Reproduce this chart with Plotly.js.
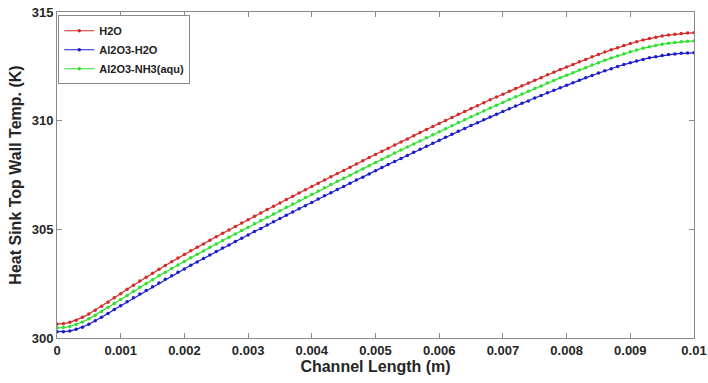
<!DOCTYPE html>
<html>
<head>
<meta charset="utf-8">
<script src="https://cdn.plot.ly/plotly-3.0.1.min.js"></script>
<style>html,body{margin:0;padding:0;background:#fff;}#chart{width:708px;height:383px;}</style>
</head>
<body>
<div id="chart"></div>
<script>
// Channel length positions: 101 grid points from 0 to 0.01 m
const channelLength = Array.from({length: 101}, (_, i) => +(i * 0.0001).toFixed(4));

const seriesNames = ["H2O", "Al2O3-H2O", "Al2O3-NH3(aqu)"];

const tempH2O = [
300.64,300.66,300.72,300.82,300.95,301.10,301.28,301.46,301.65,301.85,
302.04,302.24,302.43,302.62,302.80,302.98,303.16,303.34,303.51,303.68,
303.84,304.01,304.17,304.33,304.50,304.66,304.82,304.97,305.13,305.29,
305.44,305.60,305.75,305.91,306.06,306.21,306.37,306.52,306.67,306.82,
306.97,307.12,307.27,307.42,307.57,307.71,307.86,308.01,308.15,308.30,
308.44,308.59,308.73,308.88,309.02,309.16,309.31,309.45,309.59,309.73,
309.87,310.01,310.15,310.29,310.42,310.56,310.69,310.83,310.96,311.09,
311.22,311.35,311.48,311.61,311.73,311.86,311.98,312.11,312.23,312.35,
312.47,312.59,312.71,312.82,312.94,313.05,313.16,313.26,313.36,313.46,
313.55,313.63,313.71,313.78,313.84,313.90,313.94,313.98,314.01,314.03,
314.04];

const tempAl2O3H2O = [
300.29,300.29,300.32,300.40,300.50,300.63,300.79,300.95,301.13,301.31,
301.48,301.67,301.85,302.02,302.19,302.36,302.53,302.70,302.87,303.03,
303.18,303.35,303.50,303.66,303.82,303.98,304.14,304.28,304.44,304.59,
304.74,304.90,305.04,305.20,305.35,305.50,305.65,305.80,305.95,306.09,
306.24,306.39,306.54,306.68,306.83,306.97,307.12,307.27,307.40,307.55,
307.69,307.84,307.98,308.12,308.26,308.40,308.55,308.69,308.82,308.96,
309.10,309.24,309.37,309.51,309.64,309.78,309.90,310.04,310.17,310.29,
310.42,310.55,310.67,310.80,310.91,311.04,311.16,311.28,311.40,311.51,
311.63,311.75,311.86,311.97,312.08,312.19,312.30,312.39,312.49,312.58,
312.67,312.75,312.82,312.89,312.94,313.00,313.04,313.07,313.10,313.11,
313.12];

const tempAl2O3NH3 = [
300.47,300.48,300.53,300.62,300.74,300.88,301.05,301.22,301.40,301.59,
301.77,301.96,302.15,302.33,302.51,302.68,302.86,303.03,303.20,303.36,
303.52,303.69,303.85,304.00,304.17,304.33,304.49,304.64,304.79,304.95,
305.10,305.26,305.41,305.56,305.71,305.86,306.02,306.17,306.31,306.46,
306.61,306.76,306.91,307.06,307.21,307.35,307.49,307.64,307.78,307.93,
308.07,308.22,308.36,308.51,308.65,308.79,308.93,309.07,309.21,309.35,
309.49,309.63,309.77,309.91,310.04,310.18,310.31,310.45,310.58,310.71,
310.84,310.97,311.10,311.23,311.35,311.48,311.60,311.73,311.85,311.97,
312.09,312.21,312.33,312.44,312.56,312.67,312.78,312.88,312.98,313.08,
313.17,313.25,313.33,313.40,313.46,313.52,313.56,313.60,313.63,313.65,
313.66];

const xTickVals = [0,0.001,0.002,0.003,0.004,0.005,0.006,0.007,0.008,0.009,0.01];
const xTickText = ["0","0.001","0.002","0.003","0.004","0.005","0.006","0.007","0.008","0.009","0.01"];
const yTickVals = [300,305,310,315];
const yTickText = ["300","305","310","315"];

const colors = ["#d42a2a", "#1c1ccf", "#2fe02f"];
const allSeries = [tempH2O, tempAl2O3H2O, tempAl2O3NH3];

const traces = allSeries.map((ys, k) => ({
  x: channelLength,
  y: ys,
  name: seriesNames[k],
  type: "scatter",
  mode: "lines+markers",
  line: {color: colors[k], width: 1.2},
  marker: {color: colors[k], size: 3.5, symbol: "circle"}
}));

const fontFam = "Liberation Sans, Arial, sans-serif";

const layout = {
  width: 708,
  height: 383,
  margin: {l: 57, r: 14, t: 12, b: 45},
  paper_bgcolor: "#ffffff",
  plot_bgcolor: "#ffffff",
  showlegend: true,
  legend: {
    x: 0.002, y: 0.99, xanchor: "left", yanchor: "top",
    bgcolor: "#ffffff", bordercolor: "#8a8a8a", borderwidth: 1,
    font: {family: fontFam, size: 11, color: "#222", weight: "bold"},
    itemwidth: 30, tracegroupgap: 0
  },
  xaxis: {
    range: [0, 0.01],
    tickvals: xTickVals, ticktext: xTickText,
    ticks: "inside", ticklen: 5, tickcolor: "#8a8a8a",
    showline: true, linecolor: "#8a8a8a", linewidth: 1, mirror: "ticks",
    showgrid: false, zeroline: false,
    tickfont: {family: fontFam, size: 13, color: "#262626", weight: "bold"},
    title: {text: "Channel Length (m)", font: {family: fontFam, size: 16, color: "#262626", weight: "bold"}, standoff: 4}
  },
  yaxis: {
    range: [300, 315],
    tickvals: yTickVals, ticktext: yTickText,
    ticks: "inside", ticklen: 5, tickcolor: "#8a8a8a",
    showline: true, linecolor: "#8a8a8a", linewidth: 1, mirror: "ticks",
    showgrid: false, zeroline: false,
    tickfont: {family: fontFam, size: 13, color: "#262626", weight: "bold"},
    title: {text: "Heat Sink Top Wall Temp. (K)", font: {family: fontFam, size: 16, color: "#262626", weight: "bold"}, standoff: 6}
  }
};

Plotly.newPlot("chart", traces, layout, {displayModeBar: false, staticPlot: true});
</script>
</body>
</html>
